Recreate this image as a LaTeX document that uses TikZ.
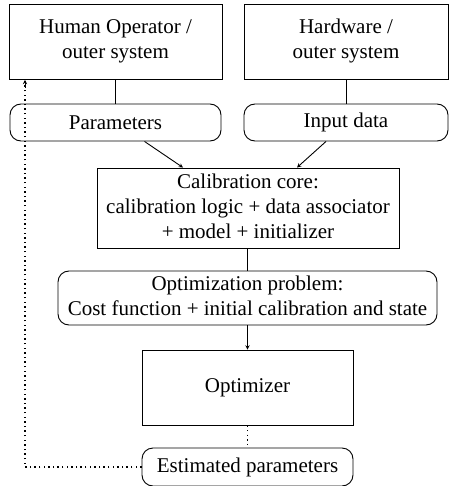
\documentclass[tikz,border=0pt]{standalone}
\usepackage{fontspec}
\setmainfont{Liberation Serif}
\newcommand{\lines}[1]{\begin{tabular}{@{}c@{}}#1\end{tabular}}
\begin{document}
\begin{tikzpicture}[x=1pt,y=-1pt,
  label text/.style={font=\fontsize{21}{25}\selectfont, inner sep=0pt},
  blockbox/.style={label text, draw, rectangle, line width=0.9pt},
  databox/.style={label text, draw, rectangle, rounded corners=11pt, line width=0.9pt},
  link/.style={line width=0.9pt},
  flow/.style={line width=0.9pt, -stealth},
  feedback/.style={line width=1.4pt, dash pattern=on 1.4pt off 3.2pt}
]
\useasboundingbox (0,0) rectangle (449,486);

\node[blockbox, minimum width=213pt, minimum height=75pt] (human) at (115.5,41.5) {\lines{Human Operator /\\outer system}};
\node[blockbox, minimum width=204pt, minimum height=75pt] (hw) at (346,41.5) {\lines{Hardware /\\outer system}};
\node[databox, minimum width=211pt, minimum height=37pt] (param) at (115.5,122.5) {Parameters};
\node[databox, minimum width=204pt, minimum height=37pt] (input) at (346,122.5) {Input data};
\node[blockbox, minimum width=302pt, minimum height=80pt] (core) at (248,208) {\lines{Calibration core:\\calibration logic + data associator\\+ model + initializer}};
\node[databox, minimum width=379pt, minimum height=54pt] (prob) at (247.5,298) {\lines{Optimization problem:\\Cost function + initial calibration and state}};
\node[blockbox, minimum width=211pt, minimum height=75pt] (opt) at (247.5,387.5) {Optimizer};
\node[databox, minimum width=211pt, minimum height=38pt] (est) at (247.5,467) {Estimated parameters};

\coordinate (fbcorner) at (25,467);
\coordinate (fbend) at (25,80);
\coordinate (fbtail) at (25,88);

\draw[link] (human.south) -- (param.north);
\draw[link] (hw.south) -- (input.north);
\draw[flow] ([xshift=29pt]param.south) -- ([xshift=-65pt]core.north);
\draw[flow] ([xshift=-20pt]input.south) -- ([xshift=49pt]core.north);
\draw[link] (core.south -| prob.north) -- (prob.north);
\draw[flow] (prob.south) -- (opt.north);
\draw[feedback] (opt.south) -- (est.north);
\draw[feedback] (est.west) -- (fbcorner) -- (fbend);
\draw[flow] (fbtail) -- (fbend);
\end{tikzpicture}
\end{document}
